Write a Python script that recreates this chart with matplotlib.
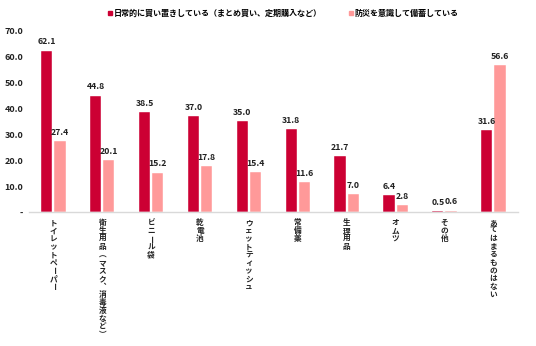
import matplotlib
matplotlib.use("Agg")
import matplotlib.pyplot as plt
import numpy as np
from matplotlib.lines import Line2D

plt.rcParams['font.family'] = ['Noto Sans CJK JP', 'DejaVu Sans']

categories = ["トイレットペーパー", "衛生用品（マスク、消毒液など）", "ビニール袋", "乾電池",
              "ウェットティッシュ", "常備薬", "生理用品", "オムツ", "その他", "あてはまるものはない"]
daily = [62.1, 44.8, 38.5, 37.0, 35.0, 31.8, 21.7, 6.4, 0.5, 31.6]
disaster = [27.4, 20.1, 15.2, 17.8, 15.4, 11.6, 7.0, 2.8, 0.6, 56.6]
series_names = ["日常的に買い置きしている（まとめ買い、定期購入など）", "防災を意識して備蓄している"]
yticks = [0, 10, 20, 30, 40, 50, 60, 70]
ytick_labels = ["-", "10.0", "20.0", "30.0", "40.0", "50.0", "60.0", "70.0"]

c_red = "#CC0033"
c_pink = "#FF9999"
c_text = "#222222"

fig = plt.figure(figsize=(5.36, 3.46), dpi=100)
ax = fig.add_axes([0.054, 0.387, 0.912, 0.526])

x = np.arange(len(categories))
w = 0.23
gap = 0.04
ax.bar(x - (w + gap) / 2, daily, w, color=c_red, edgecolor="white", linewidth=0.3)
ax.bar(x + (w + gap) / 2, disaster, w, color=c_pink, edgecolor="white", linewidth=0.3)

for xi, v in zip(x, daily):
    ax.annotate(f"{v:.1f}", (xi - (w + gap) / 2, v), xytext=(0, 3), textcoords="offset points",
                ha="center", va="bottom", fontsize=6.3, fontweight="bold", color=c_text)
for xi, v in zip(x, disaster):
    ax.annotate(f"{v:.1f}", (xi + (w + gap) / 2, v), xytext=(0, 3), textcoords="offset points",
                ha="center", va="bottom", fontsize=6.3, fontweight="bold", color=c_text)

ax.set_xlim(-0.5, len(categories) - 0.5)
ax.set_ylim(0, 70)
ax.set_yticks(yticks)
ax.set_yticklabels(ytick_labels, fontsize=6.5, fontweight="bold", color=c_text)
ax.tick_params(axis="y", length=0, pad=4)
ax.tick_params(axis="x", length=0)
ax.set_xticks([])
for s in ["top", "right", "left"]:
    ax.spines[s].set_visible(False)
ax.spines["bottom"].set_color("#d9d9d9")
ax.spines["bottom"].set_linewidth(1.0)

# vertical (tategaki) category labels, one character at a time
vertical_forms = {"（": "︵", "）": "︶", "、": "︑"}
fs = 5.5
pitch = 5.75  # points per character
start = 4.5
for xi, lab in zip(x, categories):
    for i, ch in enumerate(lab):
        ch = vertical_forms.get(ch, ch)
        if ch == "ー":
            ax.annotate(ch, xy=(xi, 0), xycoords=("data", "axes fraction"),
                        xytext=(0, -start - i * pitch - pitch / 2), textcoords="offset points",
                        ha="center", va="center", fontsize=fs, fontweight="bold",
                        color=c_text, rotation=-90, annotation_clip=False)
        else:
            ax.annotate(ch, xy=(xi, 0), xycoords=("data", "axes fraction"),
                        xytext=(0, -start - (i + 1) * pitch + 0.14 * fs), textcoords="offset points",
                        ha="center", va="baseline", fontsize=fs, fontweight="bold",
                        color=c_text, annotation_clip=False)

handles = [Line2D([], [], marker="s", linestyle="none", color=c_red, markersize=3.2),
           Line2D([], [], marker="s", linestyle="none", color=c_pink, markersize=3.2)]
fig.legend(handles, series_names, loc="center", bbox_to_anchor=(0.527, 0.962), ncol=2,
           frameon=False, prop={"size": 5.8, "weight": "bold"}, handletextpad=0.1,
           columnspacing=3.2, handlelength=0.8)

fig.savefig("out.png", dpi=100)
